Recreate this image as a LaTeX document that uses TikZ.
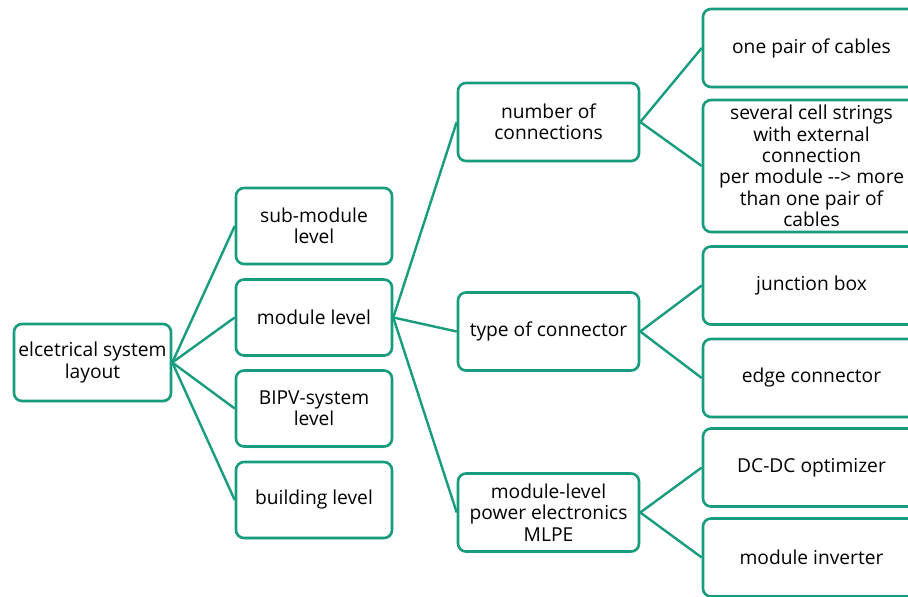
\documentclass[tikz,border=0pt]{standalone}
\usepackage{fontspec}
\setmainfont{Open Sans}
\usetikzlibrary{shadows}
\definecolor{fgreen}{HTML}{179C7D}
\begin{document}
\begin{tikzpicture}[x=1pt,y=-1pt,
  box/.style={draw=fgreen, line width=2.6pt, rounded corners=8pt, fill=white,
    align=center, font=\fontsize{19.2}{21.3}\selectfont, text=black, inner sep=0pt,
    drop shadow={opacity=0.18, shadow xshift=1.2pt, shadow yshift=-1.5pt}},
  lvA/.style={box, minimum width=156pt, minimum height=76pt},
  lvB/.style={box, minimum width=181pt, minimum height=78pt},
  lvC/.style={box, minimum width=217pt, minimum height=78pt},
  link/.style={draw=fgreen, line width=2.4pt}]
\useasboundingbox (0,0) rectangle (908,597);
\clip (0,0) rectangle (908,597);
\fill[white] (0,0) rectangle (908,597);
% root
\node[box, minimum width=157pt, minimum height=77pt] (root) at (92.5,362.5) {elcetrical system\\layout};
% level 1
\node[lvA] (sub) at (314,226) {sub-module\\level};
\node[lvA] (mod) at (314,317.5) {module level};
\node[lvA] (bipv) at (314,408.5) {BIPV-system\\level};
\node[lvA] (bld) at (314,500) {building level};
% level 2
\node[lvB] (num) at (548.5,122) {number of\\connections};
\node[lvB] (typ) at (548.5,331.5) {type of connector};
\node[lvB] (mlpe) at (548.5,512.5) {module-level\\power electronics\\MLPE};
% level 3
\node[lvC] (pair) at (811.5,48) {one pair of cables};
\node[lvC, minimum height=132pt] (sev) at (811.5,166) {several cell strings\\with external\\connection\\per module -{}-> more\\than one pair of\\cables};
\node[lvC] (jbox) at (811.5,285.5) {junction box};
\node[lvC] (edge) at (811.5,378) {edge connector};
\node[lvC] (dcdc) at (811.5,467.5) {DC-DC optimizer};
\node[lvC] (inv) at (811.5,557.5) {module inverter};
% links
\foreach \c in {sub,mod,bipv,bld} \draw[link] (root.east) -- (\c.west);
\foreach \c in {num,typ,mlpe} \draw[link] (mod.east) -- (\c.west);
\foreach \c in {pair,sev} \draw[link] (num.east) -- (\c.west);
\foreach \c in {jbox,edge} \draw[link] (typ.east) -- (\c.west);
\foreach \c in {dcdc,inv} \draw[link] (mlpe.east) -- (\c.west);
\end{tikzpicture}
\end{document}
